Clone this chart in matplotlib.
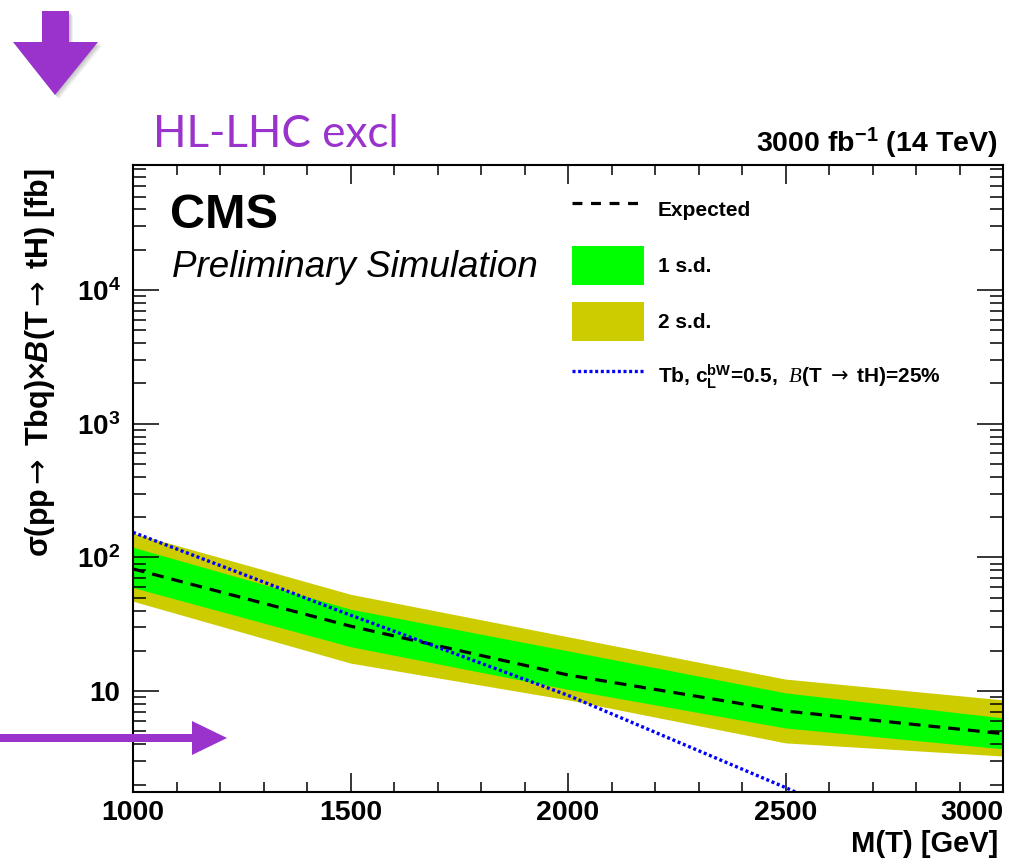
import numpy as np
import matplotlib
matplotlib.use("Agg")
import matplotlib.pyplot as plt
from matplotlib.lines import Line2D
from matplotlib.patches import Patch, Polygon
from matplotlib.ticker import FixedLocator, MultipleLocator, LogLocator, NullFormatter

# expected limits (fb)
mass = [1000, 1500, 2000, 2500, 3000]
expected = [82, 30.6, 13.2, 7.1, 4.8]
plus1 = [119, 41, 20, 9.7, 6.3]
minus1 = [59.5, 21.5, 10.3, 5.3, 3.7]
plus2 = [152, 53, 25.5, 12.3, 8.6]
minus2 = [47, 16.2, 8.6, 4.1, 3.27]

# theory curve Tb, cL=0.5, B(T->tH)=25%
theory_mass = [1000, 1500, 2000, 2500, 3000]
theory_xsec = [154, 37, 9.3, 1.9, 0.35]

xticks = [1000, 1500, 2000, 2500, 3000]
xticklabels = ['1000', '1500', '2000', '2500', '3000']
yticks = [10, 100, 1000, 10000]
yticklabels = ['10', r'$\mathbf{10^{2}}$', r'$\mathbf{10^{3}}$', r'$\mathbf{10^{4}}$']

plt.rcParams['font.family'] = ['Liberation Sans', 'DejaVu Sans']
plt.rcParams['mathtext.fontset'] = 'custom'
plt.rcParams['mathtext.bf'] = 'Liberation Sans:bold'
plt.rcParams['mathtext.rm'] = 'DejaVu Sans'
plt.rcParams['mathtext.it'] = 'Liberation Serif:italic'
plt.rcParams['mathtext.sf'] = 'Liberation Sans:bold:italic'

W, H = 1034, 863
fig = plt.figure(figsize=(W / 100, H / 100), dpi=100)
ax = fig.add_axes([133 / W, 1 - 792 / H, 870 / W, 627.3 / H])

green = '#00ff00'
yellow = '#cccc00'
purple = '#9933cc'

ax.fill_between(mass, minus2, plus2, color=yellow, lw=0)
ax.fill_between(mass, minus1, plus1, color=green, lw=0)
ax.plot(mass, expected, color='black', lw=2.3, ls=(0, (3.7, 2.5)))
ax.plot(theory_mass, theory_xsec, color='#0000ff', lw=2.4, ls=(0, (0.9, 0.8)))

ax.set_yscale('log')
ax.set_xlim(1000, 3000)
ax.set_ylim(1.76, 8.65e4)

ax.xaxis.set_major_locator(FixedLocator(xticks))
ax.set_xticklabels(xticklabels)
ax.xaxis.set_minor_locator(MultipleLocator(100))
ax.yaxis.set_major_locator(FixedLocator(yticks))
ax.set_yticklabels(yticklabels)
ax.yaxis.set_minor_locator(LogLocator(base=10, subs=np.arange(2, 10), numticks=20))
ax.yaxis.set_minor_formatter(NullFormatter())

ax.tick_params(which='both', direction='in', top=True, right=True, width=1.1)
ax.tick_params(axis='y', which='major', length=18.7, pad=9, labelsize=20)
ax.tick_params(axis='y', which='minor', length=9.4)
ax.tick_params(axis='x', which='major', length=13.7, pad=6, labelsize=20.5)
ax.tick_params(axis='x', which='minor', length=7.2)
for lab in ax.get_xticklabels() + ax.get_yticklabels():
    lab.set_fontweight('bold')
# last x label kept inside the frame, like ROOT does
ax.get_xticklabels()[-1].set_horizontalalignment('right')
for sp in ax.spines.values():
    sp.set_linewidth(1.5)

ax.set_xlabel('M(T) [GeV]', fontsize=21, fontweight='bold', loc='right')
ax.xaxis.set_label_coords(0.994, -0.06)
ax.set_ylabel(r'σ(pp$\rightarrow$ Tbq)×$\mathsf{B}$(T$\rightarrow$ tH) [fb]',
              fontsize=22, fontweight='bold', loc='top')
ax.yaxis.set_label_coords(-0.0874, 0.995)

ax.text(0.0425, 0.8995, 'CMS', transform=ax.transAxes, fontsize=35, fontweight='bold')
ax.text(0.045, 0.821, 'Preliminary Simulation', transform=ax.transAxes, fontsize=26.5, style='italic')
ax.text(0.993, 1.019, r'3000 fb$\mathbf{^{-1}}$ (14 TeV)', transform=ax.transAxes,
        fontsize=20.5, fontweight='bold', ha='right')

handles = [
    Line2D([], [], color='black', lw=2.3, ls=(0, (3.1, 2.7))),
    Patch(facecolor=green, edgecolor='none'),
    Patch(facecolor=yellow, edgecolor='none'),
    Line2D([], [], color='#0000ff', lw=2.4, ls=(0, (0.9, 0.8))),
]
labels = ['Expected', '1 s.d.', '2 s.d.',
          r'Tb, $\mathbf{c_{L}^{bW}}$=0.5,  $\mathit{B}$(T $\rightarrow$ tH)=25%']
ax.legend(handles, labels, loc='upper left', bbox_to_anchor=(0.5046, 0.959),
          frameon=False, borderpad=0, borderaxespad=0,
          prop={'weight': 'bold', 'size': 15},
          handlelength=3.46, handleheight=2.48, labelspacing=0.82, handletextpad=0.67)

# purple annotations from the slide
fig.text(153 / W, 1 - 147 / H, 'HL-LHC excl', color=purple, fontsize=31.7, family='Lato')


def px(points):
    return [(x / W, 1 - y / H) for x, y in points]


down = [(42, 11), (69, 11), (69, 42), (98, 42), (55, 95), (13, 42), (42, 42)]
for k in range(1, 5):
    shadow = [(x + k, y + k) for x, y in down]
    fig.patches.append(Polygon(px(shadow), closed=True, transform=fig.transFigure,
                               facecolor='black', alpha=0.06, lw=0))
fig.patches.append(Polygon(px(down), closed=True, transform=fig.transFigure,
                           facecolor=purple, lw=0))
right = [(0, 734), (192, 734), (192, 721), (227, 738), (192, 755), (192, 742), (0, 742)]
fig.patches.append(Polygon(px(right), closed=True, transform=fig.transFigure,
                           facecolor=purple, lw=0))

fig.savefig('out.png', dpi=100)
